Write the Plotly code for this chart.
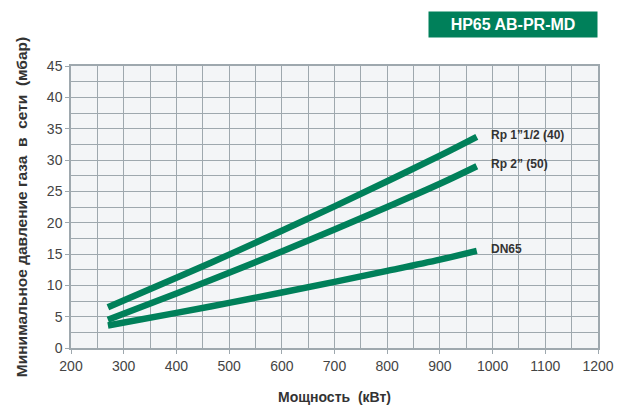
import plotly.graph_objects as go

power = [270, 400, 500, 600, 700, 800, 900, 970]
rp_1_1_2 = [6.5, 11.2, 14.9, 18.7, 22.6, 26.6, 30.7, 33.7]
rp_2 = [4.5, 8.7, 12.0, 15.4, 18.9, 22.5, 26.2, 29.0]
dn65 = [3.6, 5.6, 7.2, 8.85, 10.55, 12.3, 14.1, 15.5]
names = ["Rp 1\u201d1/2 (40)", "Rp 2\u201d (50)", "DN65"]

GREEN = "#00805a"
GRID = "#9ea8ae"

fig = go.Figure()
for name, ys in zip(names, [rp_1_1_2, rp_2, dn65]):
    fig.add_trace(go.Scatter(
        x=power, y=ys, mode="lines", name=name,
        line=dict(color=GREEN, width=6.5, shape="spline"),
        showlegend=False,
    ))
    fig.add_annotation(
        x=power[-1], y=ys[-1], text="<b>" + name + "</b>",
        xanchor="left", yanchor="bottom", xshift=12, yshift=-7,
        showarrow=False, font=dict(size=12, color="#333333"),
    )

fig.add_annotation(
    xref="paper", yref="paper", x=1.0, y=1.0, xanchor="right", yanchor="bottom",
    yshift=28, text="<b>HP65 AB-PR-MD</b>", showarrow=False,
    bgcolor=GREEN, font=dict(size=16, color="white"),
    borderpad=4, width=160,
)

# the page body has an 8px margin, so the figure is sized to fit the window
fig.update_layout(
    width=622, height=402,
    margin=dict(l=63, r=32, t=58, b=62),
    paper_bgcolor="white", plot_bgcolor="#f3f5f7",
    font=dict(family="Liberation Sans, Arial, sans-serif", color="#333333"),
)
fig.update_xaxes(
    range=[200, 1200], dtick=100, tick0=200, automargin=False,
    showgrid=True, gridcolor=GRID, gridwidth=1.2,
    minor=dict(dtick=50, showgrid=True, gridcolor=GRID, gridwidth=1.2),
    showline=True, linecolor=GRID, linewidth=1.5, mirror=True,
    ticks="outside", ticklen=4, tickcolor=GRID,
    tickfont=dict(size=14, color="#444444"),
    title=dict(text="<b>\u041c\u043e\u0449\u043d\u043e\u0441\u0442\u044c  (\u043a\u0412\u0442)</b>", font=dict(size=14), standoff=20),
    zeroline=False,
)
fig.update_yaxes(
    range=[0, 45], dtick=5, automargin=False,
    showgrid=True, gridcolor=GRID, gridwidth=1.2,
    minor=dict(dtick=2.5, showgrid=True, gridcolor=GRID, gridwidth=1.2),
    showline=True, linecolor=GRID, linewidth=1.5, mirror=True,
    ticks="outside", ticklen=4, tickcolor=GRID,
    tickfont=dict(size=14, color="#444444"),
    title=dict(text="<b>\u041c\u0438\u043d\u0438\u043c\u0430\u043b\u044c\u043d\u043e\u0435 \u0434\u0430\u0432\u043b\u0435\u043d\u0438\u0435 \u0433\u0430\u0437\u0430  \u0432  \u0441\u0435\u0442\u0438  (\u043c\u0431\u0430\u0440)</b>", font=dict(size=15.5), standoff=15),
    zeroline=False,
)

fig.write_html("out.html")
